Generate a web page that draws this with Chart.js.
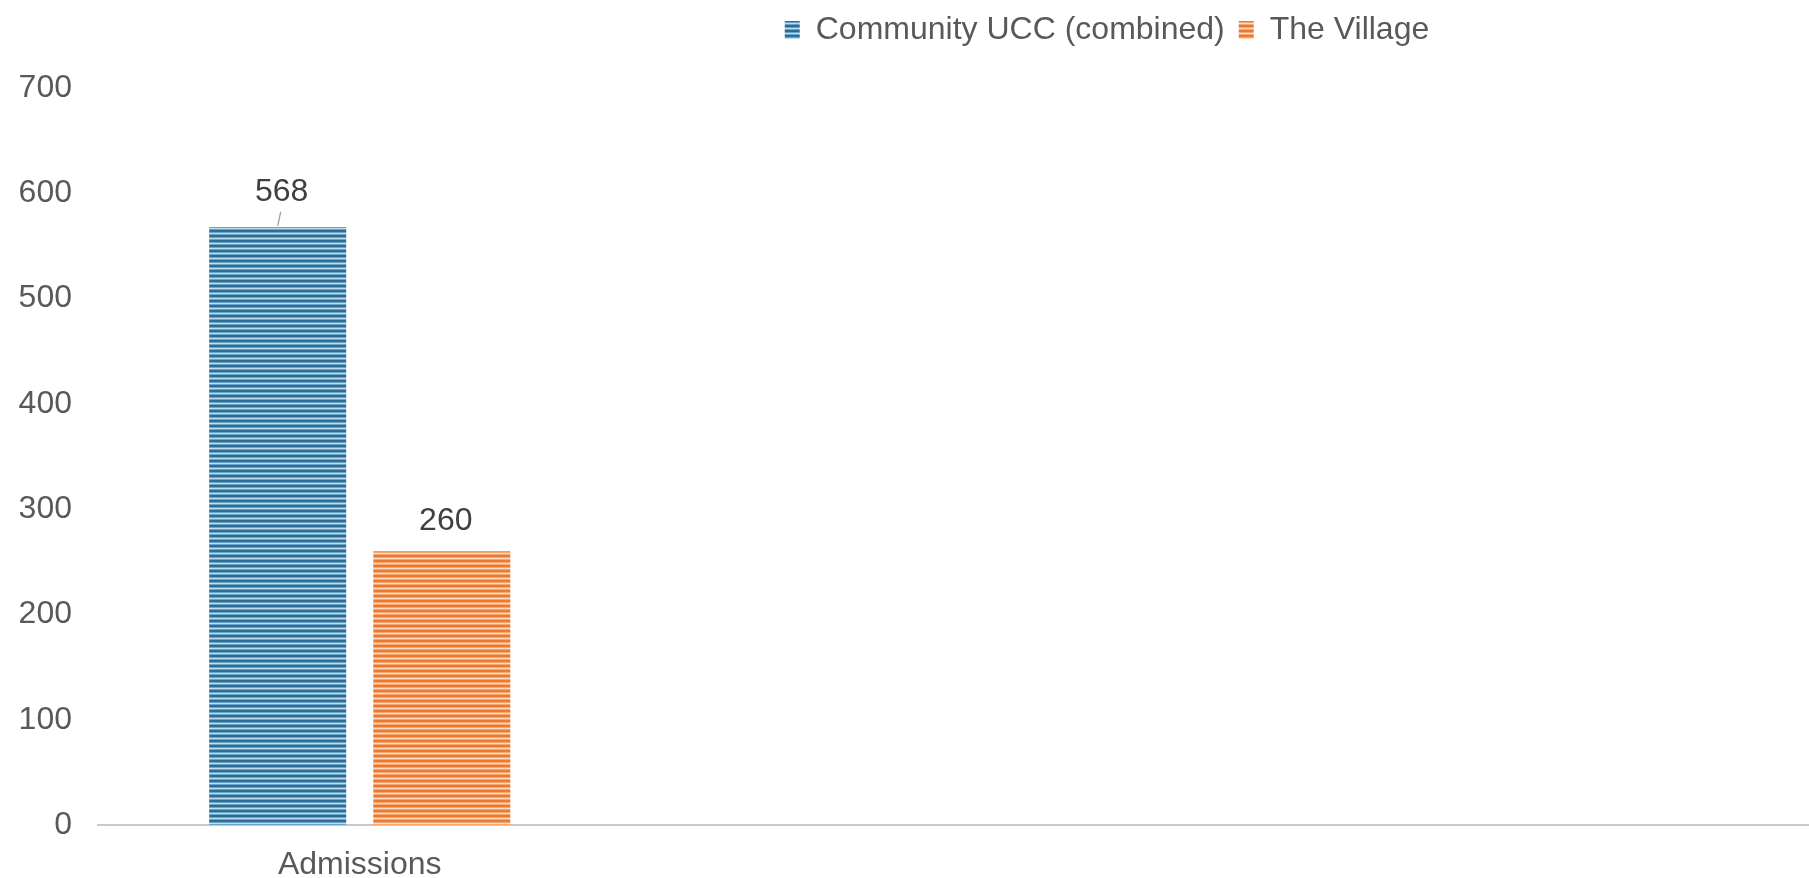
<!DOCTYPE html>
<html>
<head>
<meta charset="utf-8">
<title>Admissions</title>
<script src="https://cdn.jsdelivr.net/npm/chart.js@4/dist/chart.umd.min.js"></script>
<style>
  html, body { margin: 0; padding: 0; background: #fff; overflow: hidden; }
  #wrap { width: 2192px; height: 878px; }
</style>
</head>
<body>
<div id="wrap"><canvas id="admChart" width="2192" height="878"></canvas></div>
<script>
// Data
const categories = ['Admissions', '', '', ''];
const seriesNames = ['Community UCC (combined)', 'The Village'];
const communityUcc = [568, null, null, null];
const theVillage = [260, null, null, null];
const yTicks = [0, 100, 200, 300, 400, 500, 600, 700];

const FONT = '"Liberation Sans", Arial, sans-serif';

// horizontal pin-stripe fill used by the bars and legend boxes
function stripes(dark, mid, light) {
    const c = document.createElement('canvas');
    c.width = 4;
    c.height = 5;
    const g = c.getContext('2d');
    const rows = [dark, dark, mid, light, mid];
    rows.forEach((col, i) => {
        g.fillStyle = col;
        g.fillRect(0, i, 4, 1);
    });
    return g.createPattern(c, 'repeat');
}

const blueFill = stripes('#2d6d95', '#6aa5c6', '#bcdbec');
const orangeFill = stripes('#eb7a2e', '#f3a772', '#fcdac4');

// value labels above each bar (first series gets a small leader line)
const barValues = {
    id: 'barValues',
    afterDatasetsDraw(chart) {
        const ctx = chart.ctx;
        ctx.save();
        ctx.font = '32px ' + FONT;
        ctx.fillStyle = '#404040';
        ctx.textAlign = 'center';
        ctx.textBaseline = 'middle';
        chart.data.datasets.forEach((ds, di) => {
            const meta = chart.getDatasetMeta(di);
            meta.data.forEach((bar, i) => {
                const v = ds.data[i];
                if (v == null) return;
                const off = di === 0 ? 35 : 30;
                ctx.fillText(String(v), bar.x + 4, bar.y - off);
                if (di === 0) {
                    ctx.beginPath();
                    ctx.strokeStyle = '#9a9a9a';
                    ctx.lineWidth = 1.2;
                    ctx.moveTo(bar.x, bar.y - 1);
                    ctx.lineTo(bar.x + 3, bar.y - 15);
                    ctx.stroke();
                }
            });
        });
        ctx.restore();
    }
};

// taller legend band so the plot starts lower, legend nudged a bit right
const legendBand = {
    id: 'legendBand',
    afterInit(chart) {
        const lg = chart.legend;
        if (!lg) return;
        const fit = lg.fit;
        lg.fit = function () {
            fit.call(this);
            this.height = 88;
        };
        const draw = lg.draw;
        lg.draw = function () {
            this.ctx.save();
            this.ctx.translate(11, 0);
            draw.apply(this, arguments);
            this.ctx.restore();
        };
    }
};

new Chart(document.getElementById('admChart'), {
    type: 'bar',
    data: {
        labels: categories,
        datasets: [
            {
                label: seriesNames[0],
                data: communityUcc,
                backgroundColor: blueFill,
                borderWidth: 0,
                categoryPercentage: 0.627,
                barPercentage: 0.835
            },
            {
                label: seriesNames[1],
                data: theVillage,
                backgroundColor: orangeFill,
                borderWidth: 0,
                categoryPercentage: 0.627,
                barPercentage: 0.835
            }
        ]
    },
    options: {
        responsive: false,
        animation: false,
        layout: { padding: { left: 0, right: 0, top: 0, bottom: 0 } },
        plugins: {
            legend: {
                position: 'top',
                align: 'center',
                labels: {
                    font: { family: FONT, size: 32 },
                    color: '#595959',
                    boxWidth: 15,
                    boxHeight: 18,
                    padding: 14
                }
            },
            tooltip: { enabled: false }
        },
        scales: {
            x: {
                grid: { display: false, drawTicks: false },
                border: { display: true, color: '#c8c8c8', width: 2 },
                ticks: {
                    font: { family: FONT, size: 32 },
                    color: '#595959',
                    padding: 21,
                    maxRotation: 0,
                    autoSkip: false
                },
                afterFit(scale) { scale.height = 53; }
            },
            y: {
                min: 0,
                max: yTicks[yTicks.length - 1],
                grid: { display: false, drawTicks: false },
                border: { display: false },
                afterBuildTicks(scale) {
                    scale.ticks = yTicks.map(v => ({ value: v }));
                },
                ticks: {
                    font: { family: FONT, size: 32 },
                    color: '#595959',
                    padding: 26
                },
                afterFit(scale) { scale.width = 98; }
            }
        }
    },
    plugins: [barValues, legendBand]
});
</script>
</body>
</html>
